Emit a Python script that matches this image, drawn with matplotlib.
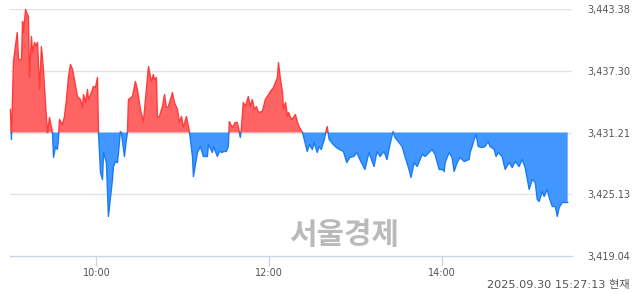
import numpy as np
import matplotlib
matplotlib.use('Agg')
import matplotlib.pyplot as plt
from matplotlib.patches import Rectangle

# previous close (baseline) and y-axis ticks
base = 3431.21
yticks = [3419.04, 3425.13, 3431.21, 3437.30, 3443.38]
xtick_min = [60, 180, 300]
xtick_labels = ['10:00', '12:00', '14:00']

# minutes since 09:00
minutes = [
    0.3, 1.0, 2.4, 5.0, 5.9, 8.0, 8.7, 9.4, 10.8, 12.1, 12.8, 13.5, 14.9, 15.6,
    17.0, 18.4, 19.1, 20.5, 21.8, 23.2, 24.6, 26.0, 27.4, 29.5, 30.2, 31.6,
    32.9, 33.6, 34.3, 36.4, 37.8, 39.2, 40.6, 42.0, 43.4, 44.7, 46.8, 48.9,
    50.3, 51.0, 52.4, 53.8, 54.4, 56.5, 57.9, 59.3, 60.7, 61.4, 62.8, 64.2,
    64.9, 66.9, 68.3, 71.1, 71.8, 73.2, 74.6, 75.3, 76.6, 77.3, 79.4, 80.8,
    81.5, 82.2, 85.0, 87.0, 88.4, 90.5, 92.6, 94.0, 96.1, 98.1, 99.5, 100.2,
    101.6, 102.3, 103.7, 105.8, 107.2, 108.5, 109.9, 112.0, 112.7, 114.1,
    116.2, 117.6, 119.0, 120.4, 122.4, 123.1, 124.5, 125.2, 126.6, 127.3,
    130.1, 132.1, 134.2, 137.0, 137.7, 140.5, 141.2, 143.9, 145.3, 147.4,
    148.1, 150.2, 151.5, 152.2, 154.3, 156.3, 157.7, 159.1, 159.8, 160.5,
    161.9, 163.3, 165.4, 166.8, 168.2, 169.6, 171.0, 172.4, 175.1, 177.2,
    178.6, 180.7, 182.8, 184.2, 185.6, 186.3, 187.7, 189.1, 189.8, 191.2,
    192.6, 193.3, 195.3, 196.7, 198.1, 199.5, 200.9, 203.0, 206.3, 207.7,
    209.8, 211.1, 213.2, 214.6, 216.0, 218.1, 218.8, 220.1, 221.5, 224.3,
    226.5, 228.6, 231.4, 233.7, 235.8, 238.6, 240.7, 242.8, 246.3, 249.1,
    252.6, 254.7, 256.8, 259.6, 261.6, 263.7, 265.8, 267.2, 270.0, 272.1,
    274.1, 276.9, 278.3, 280.4, 282.5, 284.6, 286.0, 288.1, 290.8, 292.9,
    295.0, 297.8, 299.9, 301.3, 302.0, 304.7, 306.8, 308.2, 310.3, 312.4,
    315.2, 318.6, 319.3, 320.7, 322.1, 323.5, 324.9, 327.6, 329.7, 331.8,
    333.2, 336.0, 337.3, 338.7, 341.5, 343.6, 346.4, 348.5, 350.6, 353.3,
    355.4, 357.5, 360.3, 362.4, 364.5, 365.9, 367.2, 369.3, 370.7, 372.8,
    374.2, 376.3, 378.4, 379.8, 381.1, 383.2, 387.0,
]

index = [
    3433.48, 3430.52, 3438.20, 3441.06, 3438.40, 3438.40, 3442.14, 3441.06,
    3443.33, 3442.83, 3442.64, 3436.63, 3440.67, 3439.09, 3440.08, 3439.68,
    3440.08, 3435.45, 3439.68, 3437.42, 3434.17, 3431.21, 3432.69, 3431.21,
    3428.75, 3429.83, 3429.54, 3430.52, 3432.49, 3432.00, 3432.79, 3434.46,
    3436.73, 3437.91, 3437.42, 3436.43, 3434.76, 3434.46, 3433.67, 3434.95,
    3434.17, 3435.45, 3434.46, 3435.15, 3435.74, 3435.64, 3436.63, 3431.21,
    3427.27, 3426.58, 3429.24, 3428.25, 3422.94, 3426.58, 3427.86, 3428.35,
    3428.25, 3429.24, 3431.31, 3431.21, 3428.85, 3430.52, 3431.21, 3434.46,
    3434.76, 3436.23, 3435.45, 3433.48, 3432.29, 3434.46, 3437.71, 3436.23,
    3436.92, 3436.43, 3436.63, 3432.69, 3432.79, 3433.77, 3434.95, 3433.67,
    3433.77, 3434.76, 3435.15, 3434.17, 3433.48, 3432.20, 3432.79, 3431.70,
    3432.79, 3432.29, 3431.31, 3430.52, 3428.85, 3426.87, 3429.24, 3429.83,
    3428.85, 3428.85, 3430.03, 3429.24, 3429.83, 3428.85, 3429.34, 3429.24,
    3429.34, 3429.34, 3429.83, 3432.29, 3431.70, 3432.20, 3432.20, 3431.31,
    3430.72, 3431.51, 3434.17, 3433.77, 3434.76, 3433.77, 3434.46, 3433.48,
    3433.77, 3433.18, 3433.28, 3434.46, 3434.76, 3435.25, 3435.64, 3436.14,
    3436.63, 3438.11, 3436.43, 3435.15, 3433.48, 3434.17, 3432.79, 3433.18,
    3432.49, 3432.69, 3432.98, 3432.20, 3431.70, 3431.21, 3429.34, 3430.03,
    3429.54, 3430.22, 3429.24, 3429.83, 3429.54, 3430.52, 3431.01, 3431.80,
    3430.52, 3430.03, 3429.73, 3429.54, 3429.34, 3428.25, 3428.75, 3428.85,
    3429.24, 3428.55, 3427.57, 3429.24, 3427.86, 3429.34, 3428.85, 3429.34,
    3428.55, 3430.03, 3431.31, 3430.72, 3430.22, 3429.83, 3428.85, 3427.57,
    3426.78, 3428.25, 3427.86, 3428.55, 3429.04, 3428.85, 3429.24, 3429.54,
    3429.04, 3427.57, 3427.57, 3427.37, 3428.25, 3429.24, 3428.75, 3427.37,
    3428.25, 3428.75, 3428.35, 3428.55, 3429.24, 3429.83, 3430.52, 3431.01,
    3429.83, 3429.73, 3429.83, 3430.32, 3429.83, 3429.54, 3428.85, 3429.24,
    3428.85, 3427.57, 3428.25, 3427.76, 3428.35, 3427.86, 3428.55, 3427.76,
    3425.60, 3426.58, 3426.28, 3424.61, 3424.41, 3425.40, 3424.91, 3425.60,
    3424.81, 3423.92, 3423.92, 3422.94, 3423.82, 3424.31, 3424.31,
]

t = np.array(minutes)
v = np.array(index)

red_fill, red_line = '#ff6464', '#ff3c3c'
blue_fill, blue_line = '#4297ff', '#1a7cf5'

fig = plt.figure(figsize=(6.4, 2.94), dpi=100)
ax = fig.add_axes([10 / 640, 1 - 256 / 294, 562 / 640, 247 / 294])

ax.fill_between(t, v, base, where=v >= base, interpolate=True,
                color=red_fill, linewidth=0)
ax.fill_between(t, v, base, where=v <= base, interpolate=True,
                color=blue_fill, linewidth=0)

# outline coloured by side of the baseline
up, = ax.plot(t, v, color=red_line, lw=1)
up.set_clip_path(Rectangle((-10, base), 500, 100, transform=ax.transData))
dn, = ax.plot(t, v, color=blue_line, lw=1)
dn.set_clip_path(Rectangle((-10, base - 100), 500, 100, transform=ax.transData))

ax.set_xlim(0, 390)
ax.set_ylim(yticks[0], yticks[-1])

for y in yticks[1:]:
    ax.axhline(y, color='#e3e3e3', lw=1, zorder=0)

for s in ['top', 'left', 'right']:
    ax.spines[s].set_visible(False)
ax.spines['bottom'].set_color('#c9d5e8')
ax.spines['bottom'].set_linewidth(1)

ax.set_xticks(xtick_min)
ax.set_xticklabels(xtick_labels)
ax.tick_params(axis='x', length=7, width=1, color='#c9d5e8',
               labelsize=7, labelcolor='#555555', pad=2)

ax.yaxis.tick_right()
ax.set_yticks(yticks)
ax.set_yticklabels([f'{y:,.2f}' for y in yticks])
ax.tick_params(axis='y', length=0, labelsize=7, labelcolor='#555555', pad=11)

fig.text(344 / 640, 1 - 235 / 294, '서울경제', family=['Noto Sans CJK KR'],
         fontsize=21.5, fontweight='bold', color='#bababa',
         ha='center', va='center')
fig.text(630 / 640, 1 - 285 / 294, '2025.09.30 15:27:13 현재',
         family=['DejaVu Sans', 'Noto Sans CJK KR'], fontsize=8.1,
         color='#555555', ha='right', va='center')

fig.savefig('out.png', dpi=100)
